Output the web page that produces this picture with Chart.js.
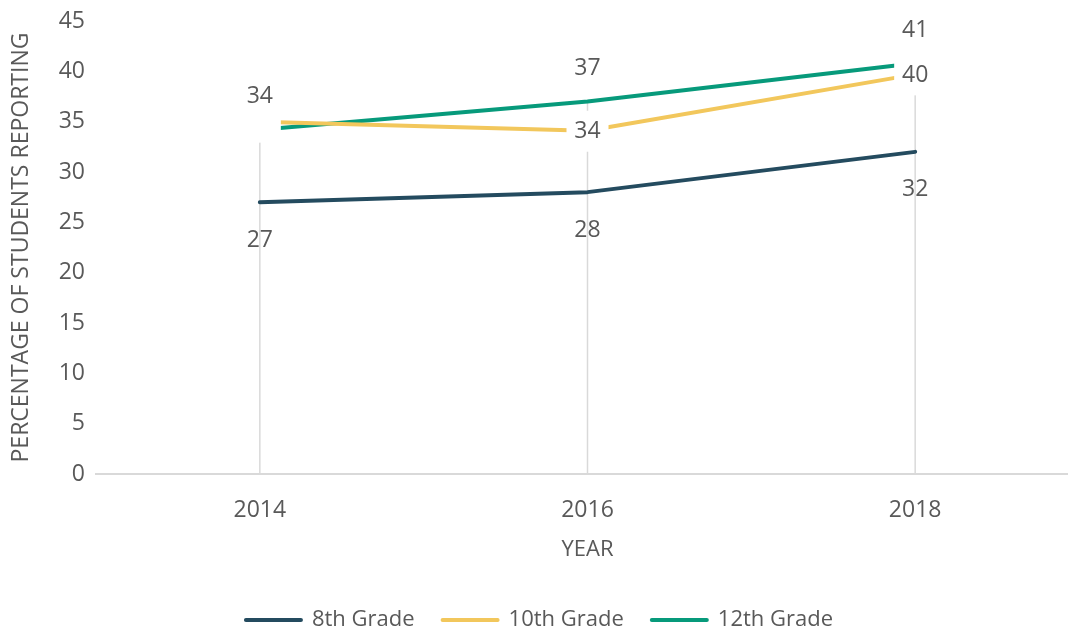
<!DOCTYPE html>
<html><head><meta charset="utf-8">
<script src="https://cdn.jsdelivr.net/npm/chart.js@4.4.1/dist/chart.umd.min.js"></script>
<style>html,body{margin:0;padding:0;background:#fff;overflow:hidden;}#wrap{width:1068px;height:633px;overflow:hidden;}</style>
</head><body><div id="wrap"><canvas id="c" width="1079" height="633"></canvas></div>
<script>
const years = ['2014', '2016', '2018'];
const grade8 = [27, 28, 32];
const grade10 = [35, 34.1, 39.7];
const grade12 = [34.2, 37, 40.8];
const labels8 = ['27', '28', '32'];
const labels10 = ['', '34', '40'];
const labels12 = ['34', '37', '41'];
const yTicks = [0, 5, 10, 15, 20, 25, 30, 35, 40, 45];

const FONT = "'Open Sans', 'Noto Sans', sans-serif";
const TXT = '#595959';
const C8 = '#244B5F', C10 = '#F2C75C', C12 = '#079A7B';

const dropLines = {
  id: 'dropLines',
  beforeDatasetsDraw(chart) {
    const ctx = chart.ctx, area = chart.chartArea;
    const metas = chart.data.datasets.map((d, i) => chart.getDatasetMeta(i));
    ctx.save();
    ctx.strokeStyle = '#D9D9D9';
    ctx.lineWidth = 1.5;
    for (let i = 0; i < years.length; i++) {
      let top = Infinity, x = 0;
      metas.forEach(m => { const p = m.data[i]; if (p.y < top) top = p.y; x = p.x; });
      ctx.beginPath();
      ctx.moveTo(x, top);
      ctx.lineTo(x, area.bottom);
      ctx.stroke();
    }
    ctx.restore();
  }
};

const dataLabels = {
  id: 'dataLabels',
  afterDatasetsDraw(chart) {
    const ctx = chart.ctx;
    ctx.save();
    ctx.font = '23px ' + FONT;
    ctx.textAlign = 'center';
    ctx.textBaseline = 'middle';
    chart.data.datasets.forEach((ds, di) => {
      const meta = chart.getDatasetMeta(di);
      meta.data.forEach((p, i) => {
        const txt = ds.pointLabels[i];
        let y = p.y;
        if (ds.labelPos === 'below') y = p.y + 38;
        else if (ds.labelPos === 'above') y = p.y - 33;
        else {
          ctx.fillStyle = '#FFFFFF';
          ctx.fillRect(p.x - 21, p.y - 20, 42, 41);
          y = p.y + 1;
        }
        if (txt) {
          ctx.fillStyle = TXT;
          ctx.fillText(txt, p.x, y);
        }
      });
    });
    ctx.restore();
  }
};

new Chart(document.getElementById('c'), {
  type: 'line',
  data: {
    labels: years,
    datasets: [
      { label: '8th Grade', data: grade8, borderColor: C8, backgroundColor: C8, borderWidth: 4, pointLabels: labels8, labelPos: 'below' },
      { label: '10th Grade', data: grade10, borderColor: C10, backgroundColor: C10, borderWidth: 4, pointLabels: labels10, labelPos: 'center' },
      { label: '12th Grade', data: grade12, borderColor: C12, backgroundColor: C12, borderWidth: 4, pointLabels: labels12, labelPos: 'above' }
    ]
  },
  options: {
    responsive: false,
    animation: false,
    devicePixelRatio: 1,
    elements: {
      line: { borderWidth: 4, tension: 0, borderCapStyle: 'round', borderJoinStyle: 'round' },
      point: { radius: 0, hoverRadius: 0 }
    },
    layout: { padding: { left: 0, right: 0, top: 21, bottom: -8 } },
    plugins: {
      legend: {
        position: 'bottom',
        labels: {
          usePointStyle: true,
          pointStyle: 'line',
          pointStyleWidth: 55,
          boxHeight: 4,
          padding: 28,
          color: TXT,
          font: { family: FONT, size: 22 },
          generateLabels(chart) {
            const items = Chart.defaults.plugins.legend.labels.generateLabels(chart);
            items.forEach((it, i) => {
              const c = chart.data.datasets[i].borderColor;
              it.lineWidth = 4;
              it.lineCap = 'round';
              it.strokeStyle = c;
              it.fillStyle = c;
            });
            return items;
          }
        }
      },
      tooltip: { enabled: false }
    },
    scales: {
      x: {
        type: 'category',
        offset: true,
        grid: { display: false },
        border: { display: true, color: '#D9D9D9', width: 2 },
        ticks: { color: TXT, font: { family: FONT, size: 23 }, padding: 15, maxRotation: 0 },
        title: { display: true, text: 'YEAR', color: TXT, font: { family: FONT, size: 22 }, padding: { top: 0, bottom: 18 } },
        afterFit(s) { s.height = 107; }
      },
      y: {
        min: yTicks[0],
        max: yTicks[yTicks.length - 1],
        grid: { display: false },
        border: { display: false },
        ticks: { stepSize: yTicks[1] - yTicks[0], color: TXT, font: { family: FONT, size: 23 }, padding: 3 },
        title: { display: true, text: 'PERCENTAGE OF STUDENTS REPORTING', color: TXT, font: { family: FONT, size: 23 }, padding: { top: 8, bottom: 0 } },
        afterFit(s) { s.width = 96; }
      }
    }
  },
  plugins: [dropLines, dataLabels]
});
</script>
</body></html>
